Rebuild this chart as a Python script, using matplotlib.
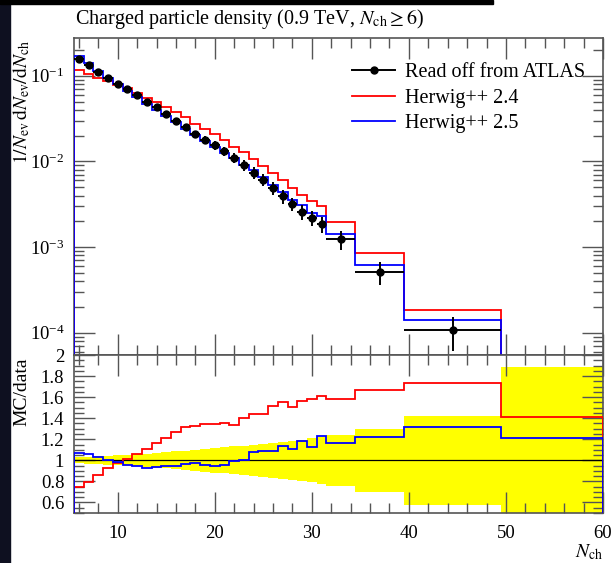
import numpy as np
import matplotlib
matplotlib.use('Agg')
import matplotlib.pyplot as plt
from matplotlib.lines import Line2D
from matplotlib.patches import Rectangle
from matplotlib.ticker import MultipleLocator, FuncFormatter, NullFormatter

plt.rcParams['font.family'] = ['Liberation Serif', 'DejaVu Serif']
plt.rcParams['mathtext.fontset'] = 'stix'

# bin edges in N_ch (unit bins up to 31, then wide bins)
edges = np.concatenate([np.arange(5.5, 32.0, 1.0), [34.5, 39.5, 49.5, 60.0]])
centers = 0.5 * (edges[:-1] + edges[1:])
widths = np.diff(edges)

data = [0.158, 0.134, 0.110, 0.094, 0.081, 0.070, 0.060, 0.050, 0.043, 0.036,
        0.030, 0.025, 0.0207, 0.0180, 0.0154, 0.0131, 0.0111, 0.0091, 0.0074, 0.0061,
        0.0049, 0.0039, 0.0032, 0.0026, 0.0022, 0.00185, 0.00123, 0.00051, 0.000107, 0.000025]
# relative data uncertainty (half height of the yellow band)
rel_err = [0.030, 0.033, 0.037, 0.041, 0.046, 0.051, 0.057, 0.063, 0.070, 0.077,
           0.084, 0.092, 0.100, 0.108, 0.116, 0.124, 0.132, 0.140, 0.148, 0.156,
           0.165, 0.175, 0.185, 0.196, 0.208, 0.220, 0.240, 0.300, 0.420, 0.890]
# MC / data ratios
ratio_24 = [0.745, 0.79, 0.86, 0.925, 0.97, 1.015, 1.06, 1.11, 1.16, 1.215,
            1.265, 1.315, 1.325, 1.345, 1.345, 1.35, 1.335, 1.405, 1.44, 1.44,
            1.515, 1.55, 1.51, 1.56, 1.585, 1.61, 1.58, 1.67, 1.73, 1.41]
ratio_25 = [1.07, 1.06, 1.03, 1.0, 0.985, 0.96, 0.945, 0.93, 0.937, 0.945,
            0.95, 0.967, 0.97, 0.96, 0.95, 0.96, 0.99, 1.0, 1.075, 1.085,
            1.09, 1.14, 1.11, 1.185, 1.13, 1.235, 1.16, 1.225, 1.32, 1.21]

data = np.array(data)
rel_err = np.array(rel_err)
mc_24 = data * np.array(ratio_24)
mc_25 = data * np.array(ratio_25)

W, H = 615, 563
fig = plt.figure(figsize=(W / 100, H / 100), dpi=100)
ax = fig.add_axes([74 / W, 1 - 355 / H, (603 - 74) / W, (355 - 38) / H])
rax = fig.add_axes([74 / W, 1 - 513 / H, (603 - 74) / W, (513 - 355) / H], sharex=ax)

# screenshot border
fig.patches.append(Rectangle((0, 0), 10 / W, 1, transform=fig.transFigure,
                             color='#0e1020', zorder=-5))
fig.patches.append(Rectangle((0, 1 - 4 / H), 493 / W, 4 / H, transform=fig.transFigure,
                             color='black', zorder=-5))

# main panel
ax.stairs(mc_24, edges, color='red', lw=1.3, zorder=3)
ax.stairs(mc_25, edges, color='blue', lw=1.3, zorder=3)
ax.errorbar(centers, data, xerr=widths / 2, yerr=data * rel_err, fmt='o', color='black',
            ms=5, lw=1.4, capsize=0, zorder=5)
ax.set_yscale('log')
ax.set_ylim(5.5e-5, 0.276)
ax.set_xlim(5.5, 60)
ax.yaxis.set_minor_formatter(NullFormatter())
ax.tick_params(labelbottom=False)

handles = [Line2D([], [], color='black', marker='o', ms=5, lw=1.4),
           Line2D([], [], color='red', lw=1.3),
           Line2D([], [], color='blue', lw=1.3)]
ax.legend(handles, ['Read off from ATLAS', 'Herwig++ 2.4', 'Herwig++ 2.5'],
          loc='upper left', bbox_to_anchor=(352 / W, 1 - 63 / H), bbox_transform=fig.transFigure,
          frameon=False, fontsize=14.5, handlelength=2.15, handletextpad=0.5,
          labelspacing=0.32, borderpad=0, borderaxespad=0)

# ratio panel
rax.bar(centers, 2 * rel_err, bottom=1 - rel_err, width=widths, color='#ffff00', lw=0, zorder=1)
rax.axhline(1.0, color='black', lw=0.9, zorder=2)
rax.stairs(ratio_24, edges, color='red', lw=1.3, zorder=3)
rax.stairs(ratio_25, edges, color='blue', lw=1.3, zorder=3)
rax.set_ylim(0.5, 2.0)
rax.yaxis.set_major_locator(MultipleLocator(0.2))
rax.yaxis.set_minor_locator(MultipleLocator(0.05))
rax.yaxis.set_major_formatter(FuncFormatter(lambda v, p: f'{v:g}'))
rax.xaxis.set_major_locator(MultipleLocator(10))
rax.xaxis.set_minor_locator(MultipleLocator(2))

for a in (ax, rax):
    a.tick_params(which='both', direction='in', top=True, right=True, color='#555555',
                  width=1.0, labelsize=13.5, pad=7)
    a.tick_params(which='major', length=15)
    a.tick_params(which='minor', length=7)
    for s in a.spines.values():
        s.set_color('#555555')
        s.set_linewidth(1.2)
rax.tick_params(axis='x', pad=9)

fig.text(75 / W, 1 - 24 / H, r'Charged particle density (0.9 TeV, $N_\mathrm{ch} \geq 6$)',
         fontsize=14.5, ha='left', va='baseline')
fig.text(22 / W, 1 - 40 / H, r'$1/N_\mathrm{ev}\,\mathrm{d}N_\mathrm{ev}/\mathrm{d}N_\mathrm{ch}$',
         fontsize=14, rotation=90, ha='center', va='top')
fig.text(22 / W, 1 - 357 / H, 'MC/data', fontsize=14, rotation=90, ha='center', va='top')
fig.text(603 / W, 1 - 557 / H, r'$N_\mathrm{ch}$', fontsize=14, ha='right', va='baseline')

fig.savefig('out.png', dpi=100)
